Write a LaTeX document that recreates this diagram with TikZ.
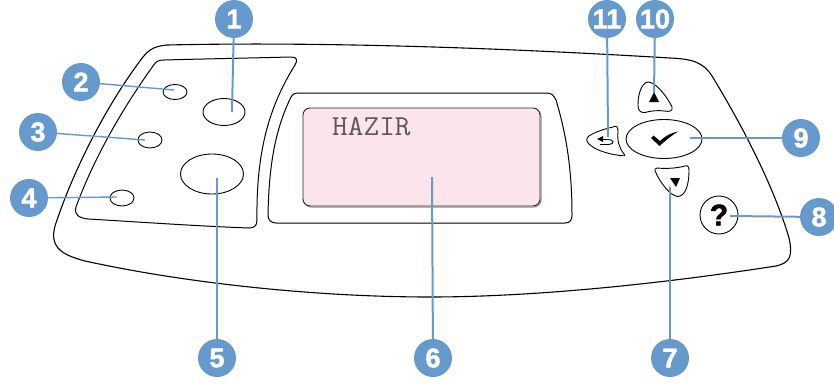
\documentclass[tikz,border=0pt]{standalone}
\usepackage{fontspec}
\setmainfont{Liberation Sans}[BoldFeatures={FakeBold=1.6}]
\setmonofont{Latin Modern Mono}
\definecolor{callout}{HTML}{6699CC}
\definecolor{lcdfill}{HTML}{FCE4EB}
\tikzset{
  num/.style={circle,fill=callout,minimum size=38pt,inner sep=0pt,text=white,font=\fontsize{27}{27}\selectfont\bfseries},
  leader/.style={draw=callout,line width=2pt},
  thinleader/.style={draw=callout,line width=1.4pt},
  outline/.style={draw=black,line width=1pt,line join=round},
  btn/.style={ellipse,draw=black,line width=.9pt,inner sep=0pt,fill=white},
}
\usetikzlibrary{shapes.geometric}
\begin{document}
\begin{tikzpicture}[x=1pt,y=-1pt]
\useasboundingbox (0,0) rectangle (834,383);
% outer panel
\draw[outline,line width=1.1pt] (167,45) .. controls (300,42) and (470,46) .. (670,58)
  .. controls (692,59) and (703,62) .. (712,76)
  .. controls (745,130) and (775,190) .. (789,238)
  .. controls (793,256) and (790,263) .. (776,266)
  .. controls (640,287) and (520,297) .. (430,297)
  .. controls (320,297) and (190,284) .. (85,261)
  .. controls (58,254) and (50,245) .. (55,226)
  .. controls (75,165) and (110,100) .. (143,57)
  .. controls (150,48) and (157,46) .. (167,45) -- cycle;
% left panel
\draw[outline] (164,60) .. controls (200,59) and (250,58) .. (291,57)
  .. controls (297,57) and (298,60) .. (295,65)
  .. controls (270,105) and (256,150) .. (257,220)
  .. controls (257,226) and (254,228) .. (249,228)
  .. controls (195,226) and (140,222) .. (88,219)
  .. controls (78,218) and (74,214) .. (76,207)
  .. controls (95,155) and (125,105) .. (153,66)
  .. controls (156,61) and (159,60) .. (164,60) -- cycle;
% display bezel
\draw[outline] (297,93) -- (547,93) .. controls (552,93) and (554,96) .. (556,100)
  .. controls (565,130) and (572,165) .. (572,215)
  .. controls (572,220) and (570,223) .. (565,223)
  -- (276,223) .. controls (271,223) and (268,220) .. (268,215)
  .. controls (269,165) and (275,130) .. (291,97)
  .. controls (293,94) and (295,93) .. (297,93) -- cycle;
% lcd
\draw[draw=gray!90,line width=1pt,rounded corners=7pt] (304.5,109.5) rectangle (541,207);
\draw[draw=black!85,line width=.9pt,fill=lcdfill,rounded corners=7pt] (303,108) rectangle (540,206);
\node[anchor=base west,inner sep=0pt,text=black!65,font=\ttfamily\fontsize{29}{29}\selectfont,xscale=1.05,transform shape] (lcdtext) at (332,135) {HAZIR};
% buttons
\node[btn,minimum width=42pt,minimum height=27pt] (b1) at (224,112) {};
\node[btn,minimum width=24pt,minimum height=15pt] (b2) at (175,92) {};
\node[btn,minimum width=24pt,minimum height=16pt] (b3) at (150,140) {};
\node[btn,minimum width=24pt,minimum height=16pt] (b4) at (122,198) {};
\node[btn,minimum width=63pt,minimum height=40pt] (b5) at (212,174) {};
\node[btn,minimum width=76pt,minimum height=39pt] (b9) at (664,139) {};
\node[circle,draw=black,line width=.9pt,minimum size=38pt,inner sep=0pt,font=\fontsize{30}{30}\selectfont\bfseries] (b8) at (719,215) {?};
% check mark
\fill (651,138) -- (653.5,135.5) -- (660,141) .. controls (665,136) and (671,133) .. (678,131.5)
  .. controls (671,136) and (665,141) .. (659.5,146) -- cycle;
% up button
\draw[outline,line width=.9pt] (648,82) .. controls (656,82) and (668,98) .. (672,107)
  .. controls (673,111) and (670,112) .. (664,111)
  .. controls (658,110) and (650,111) .. (645,112.5)
  .. controls (640,113) and (638,110) .. (638,105)
  .. controls (638,95) and (641,83) .. (648,82) -- cycle;
\fill (654,92) -- (659,102) -- (649,102) -- cycle;
% down button
\draw[outline,line width=.9pt] (657,168) .. controls (667,169) and (678,168) .. (685,166)
  .. controls (688,165) and (689,167) .. (689,171)
  .. controls (689,183) and (686,196) .. (678,196.5)
  .. controls (670,196) and (660,182) .. (656,173)
  .. controls (654,170) and (655,168) .. (657,168) -- cycle;
\fill (670,178) -- (680,178) -- (676,187) -- cycle;
% back button
\draw[outline,line width=.9pt] (613,127) .. controls (617,125) and (618,127) .. (618,132)
  .. controls (617,140) and (619,148) .. (624,154)
  .. controls (626,156) and (624,156) .. (620,155.5)
  .. controls (608,154) and (595,150) .. (589,144)
  .. controls (586,141) and (586,138) .. (589,136)
  .. controls (595,132) and (604,129) .. (613,127) -- cycle;
\draw[line width=.9pt] (600,139.5) -- (608,139.5) .. controls (614,139.5) and (615,144) .. (609,144.5) -- (600,144.5);
\fill (597,139) -- (603,136) -- (603,142) -- cycle;
% callouts
\node[num] (n1) at (234,19) {1};
\node[num] (n2) at (81,82) {2};
\node[num] (n3) at (38,132) {3};
\node[num] (n4) at (29,198) {4};
\node[num] (n5) at (217,358) {5};
\node[num] (n6) at (433,358) {6};
\node[num] (n7) at (670,358) {7};
\node[num] (n8) at (819,217) {8};
\node[num] (n9) at (801,138) {9};
\node[num] (n10) at (655,19) {10};
\node[num] (n11) at (607,19) {11};
\coordinate (e1) at (232,112);
\coordinate (e2) at (174,90);
\coordinate (e3) at (145,140);
\coordinate (e4) at (117,197);
\coordinate (e5) at (217,178);
\coordinate (e6) at (432,177);
\coordinate (e7) at (670,187);
\coordinate (e8) at (730,216);
\coordinate (e9) at (690,138);
\coordinate (e10) at (654,93);
\coordinate (e11) at (608,137);
\draw[leader] (n1) -- (e1);
\draw[thinleader] (n2) -- (e2);
\draw[thinleader] (n3) -- (e3);
\draw[thinleader] (n4) -- (e4);
\draw[leader] (n5) -- (e5);
\draw[leader] (n6) -- (e6);
\draw[leader] (n7) -- (e7);
\draw[leader] (n8) -- (e8);
\draw[leader] (n9) -- (e9);
\draw[leader] (n10) -- (e10);
\draw[leader] (n11) -- (e11);
\end{tikzpicture}
\end{document}
